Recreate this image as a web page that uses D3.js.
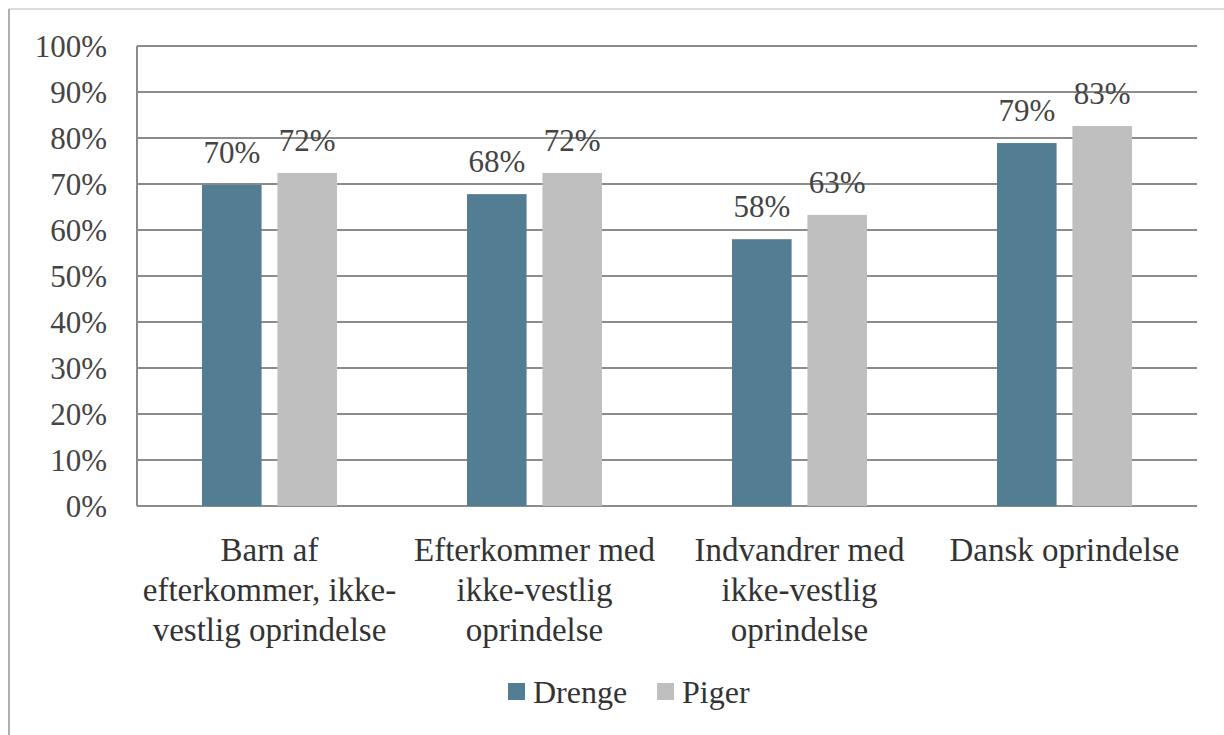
<!DOCTYPE html>
<html>
<head>
<meta charset="utf-8">
<script src="https://d3js.org/d3.v7.min.js"></script>
<style>
  body { margin: 0; background: #fff; }
</style>
</head>
<body>
<div id="chart"></div>
<script>
// data
var categories = [
  ["Barn af", "efterkommer, ikke-", "vestlig oprindelse"],
  ["Efterkommer med", "ikke-vestlig", "oprindelse"],
  ["Indvandrer med", "ikke-vestlig", "oprindelse"],
  ["Dansk oprindelse"]
];
var drenge = [69.8, 67.8, 58.0, 78.9];
var piger = [72.4, 72.4, 63.3, 82.6];
var seriesNames = ["Drenge", "Piger"];
var seriesColors = ["#527d93", "#bfbfbf"];
var yTicks = [0, 10, 20, 30, 40, 50, 60, 70, 80, 90, 100];

var width = 1224, height = 735;
var plotLeft = 137, plotRight = 1197, plotTop = 46, plotBottom = 506;
var serif = "'Liberation Serif', 'Times New Roman', serif";

var svg = d3.select("#chart").append("svg")
  .attr("width", width).attr("height", height);

// frame of the pasted chart
svg.append("line").attr("x1", 9).attr("x2", width).attr("y1", 9).attr("y2", 9)
  .attr("stroke", "#dcdcdc").attr("stroke-width", 2);
svg.append("line").attr("x1", 9).attr("x2", 9).attr("y1", 9).attr("y2", height)
  .attr("stroke", "#b0b0b0").attr("stroke-width", 2);

var x0 = d3.scaleBand().domain(d3.range(categories.length)).range([plotLeft, plotRight]);
var x1 = d3.scaleBand().domain(seriesNames).range([65, x0.bandwidth() - 65]).paddingInner(0.21);
var y = d3.scaleLinear().domain([0, 100]).range([plotBottom, plotTop]);

// gridlines
svg.append("g").selectAll("line").data(yTicks).enter().append("line")
  .attr("x1", plotLeft).attr("x2", plotRight)
  .attr("y1", function (d) { return y(d); }).attr("y2", function (d) { return y(d); })
  .attr("stroke", "#8c8c8c").attr("stroke-width", 2);

// y axis line
svg.append("line").attr("x1", plotLeft).attr("x2", plotLeft).attr("y1", plotTop).attr("y2", plotBottom)
  .attr("stroke", "#8c8c8c").attr("stroke-width", 2);

// y tick labels
svg.append("g").selectAll("text").data(yTicks).enter().append("text")
  .attr("x", 107).attr("y", function (d) { return y(d); })
  .attr("dy", "0.35em").attr("text-anchor", "end")
  .attr("font-size", 31).attr("fill", "#444")
  .style("font-family", serif)
  .text(function (d) { return d + "%"; });

// bars
var series = [drenge, piger];
series.forEach(function (vals, si) {
  var g = svg.append("g");
  g.selectAll("rect").data(vals).enter().append("rect")
    .attr("x", function (d, i) { return x0(i) + x1(seriesNames[si]); })
    .attr("y", function (d) { return y(d); })
    .attr("width", x1.bandwidth())
    .attr("height", function (d) { return plotBottom - y(d); })
    .attr("fill", seriesColors[si]);
  g.selectAll("text").data(vals).enter().append("text")
    .attr("x", function (d, i) { return x0(i) + x1(seriesNames[si]) + x1.bandwidth() / 2; })
    .attr("y", function (d) { return y(d) - 22; })
    .attr("text-anchor", "middle")
    .attr("font-size", 31).attr("fill", "#444")
    .style("font-family", serif)
    .text(function (d) { return Math.round(d) + "%"; });
});

// category labels
var cat = svg.append("g").selectAll("text").data(categories).enter().append("text")
  .attr("x", function (d, i) { return x0(i) + x0.bandwidth() / 2; })
  .attr("y", 561)
  .attr("text-anchor", "middle")
  .attr("font-size", 33).attr("fill", "#333")
  .style("font-family", serif);
cat.selectAll("tspan").data(function (d) { return d; }).enter().append("tspan")
  .attr("x", function () { return this.parentNode.getAttribute("x"); })
  .attr("dy", function (d, i) { return i === 0 ? 0 : 40; })
  .text(function (d) { return d; });

// legend
var legendX = [508, 657];
var lg = svg.append("g").selectAll("g").data(seriesNames).enter().append("g")
  .attr("transform", function (d, i) { return "translate(" + legendX[i] + ",683)"; });
lg.append("rect").attr("width", 17).attr("height", 17)
  .attr("fill", function (d, i) { return seriesColors[i]; });
lg.append("text").attr("x", 25).attr("y", 9).attr("dy", "0.35em")
  .attr("font-size", 32).attr("fill", "#333")
  .style("font-family", serif)
  .text(function (d) { return d; });
</script>
</body>
</html>
